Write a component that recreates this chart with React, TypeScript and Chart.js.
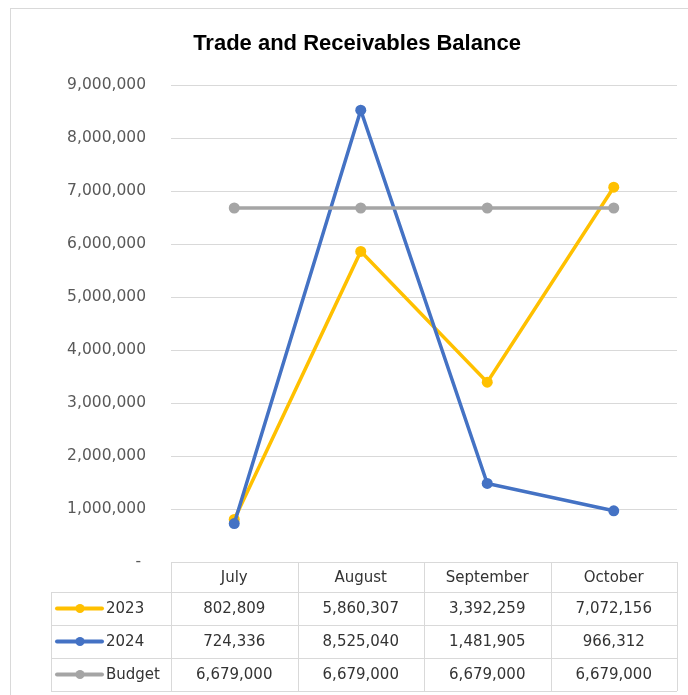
import React, { useEffect, useRef } from "react";
import { Chart, registerables } from "chart.js";

Chart.register(...registerables);

const TITLE = "Trade and Receivables Balance";
const MONTHS = ["July", "August", "September", "October"];
const SERIES_NAMES = ["2023", "2024", "Budget"];
const VALUES_2023 = [802809, 5860307, 3392259, 7072156];
const VALUES_2024 = [724336, 8525040, 1481905, 966312];
const VALUES_BUDGET = [6679000, 6679000, 6679000, 6679000];
const COLORS = ["#FFC000", "#4472C4", "#A5A5A5"];
const Y_MAX = 9000000;
const Y_STEP = 1000000;

const FONT = "'DejaVu Sans', sans-serif";
const fmt = (v: number) => v.toLocaleString("en-US");

const tablePlugin = {
  id: "excelTable",
  beforeDraw(chart: any) {
    const ctx = chart.ctx;
    ctx.save();
    ctx.fillStyle = "#ffffff";
    ctx.fillRect(0, 0, chart.width, chart.height);
    ctx.strokeStyle = "#d9d9d9";
    ctx.lineWidth = 1;
    ctx.strokeRect(10.5, 8.5, chart.width + 20, chart.height + 20);
    ctx.restore();
  },
  afterDraw(chart: any) {
    const ctx = chart.ctx;
    const area = chart.chartArea;
    const xs = chart.scales.x;
    const n = MONTHS.length;
    const band = (area.right - area.left) / n;
    const top = area.bottom;
    const headerH = 30;
    const rowH = 33;
    const legendLeft = 51;
    const rowsTop = top + headerH;
    const bottom = rowsTop + rowH * SERIES_NAMES.length;
    ctx.save();
    // title
    ctx.fillStyle = "#000000";
    ctx.font = `bold 22px 'Liberation Sans', Arial, sans-serif`;
    ctx.textAlign = "center";
    ctx.textBaseline = "alphabetic";
    ctx.fillText(TITLE, 357, 50);

    // table grid
    ctx.strokeStyle = "#d9d9d9";
    ctx.lineWidth = 1;
    const h = (x1: number, x2: number, y: number) => {
      ctx.beginPath();
      ctx.moveTo(x1, Math.round(y) + 0.5);
      ctx.lineTo(x2, Math.round(y) + 0.5);
      ctx.stroke();
    };
    const v = (x: number, y1: number, y2: number) => {
      ctx.beginPath();
      ctx.moveTo(Math.round(x) + 0.5, y1);
      ctx.lineTo(Math.round(x) + 0.5, y2);
      ctx.stroke();
    };
    h(area.left, area.right, top);
    for (let r = 0; r <= SERIES_NAMES.length; r++) h(legendLeft, area.right, rowsTop + r * rowH);
    v(legendLeft, rowsTop, bottom);
    for (let c = 0; c <= n; c++) v(area.left + c * band, top, bottom);

    // header
    ctx.fillStyle = "#333333";
    ctx.font = `15px ${FONT}`;
    ctx.textAlign = "center";
    ctx.textBaseline = "middle";
    MONTHS.forEach((m, i) => {
      ctx.fillText(m, xs.getPixelForValue(i), top + headerH / 2 + 1);
    });
    const rows = [VALUES_2023, VALUES_2024, VALUES_BUDGET];
    rows.forEach((vals, r) => {
      const cy = rowsTop + r * rowH + rowH / 2;
      ctx.strokeStyle = COLORS[r];
      ctx.lineWidth = 4;
      ctx.lineCap = "round";
      ctx.beginPath();
      ctx.moveTo(57, cy);
      ctx.lineTo(102, cy);
      ctx.stroke();
      ctx.fillStyle = COLORS[r];
      ctx.beginPath();
      ctx.arc(80, cy, 4.5, 0, Math.PI * 2);
      ctx.fill();
      ctx.fillStyle = "#333333";
      ctx.textAlign = "left";
      ctx.fillText(SERIES_NAMES[r], 106, cy + 1);
      ctx.textAlign = "center";
      vals.forEach((val, i) => {
        ctx.fillText(fmt(val), xs.getPixelForValue(i), cy + 1);
      });
    });
    ctx.restore();
  },
};

export default function App() {
  const ref = useRef<HTMLCanvasElement | null>(null);
  useEffect(() => {
    if (!ref.current) return;
    const mk = (label: string, data: number[], color: string, order: number) => ({
      label,
      data,
      borderColor: color,
      backgroundColor: color,
      pointBackgroundColor: color,
      pointBorderColor: color,
      pointBorderWidth: 0,
      pointRadius: 5.5,
      borderWidth: 3.5,
      tension: 0,
      order,
    });
    const chart = new Chart(ref.current, {
      type: "line",
      data: {
        labels: MONTHS,
        datasets: [
          mk(SERIES_NAMES[0], VALUES_2023, COLORS[0], 2),
          mk(SERIES_NAMES[1], VALUES_2024, COLORS[1], 1),
          mk(SERIES_NAMES[2], VALUES_BUDGET, COLORS[2], 0),
        ],
      },
      options: {
        responsive: false,
        animation: false,
        layout: { padding: { left: 0, right: 11, top: 85, bottom: 133 } },
        plugins: { legend: { display: false }, tooltip: { enabled: false }, title: { display: false } },
        scales: {
          x: { type: "category", display: false, offset: true },
          y: {
            min: 0,
            max: Y_MAX,
            afterFit: (s: any) => {
              s.width = 171;
            },
            border: { display: false },
            grid: { color: "#d9d9d9", lineWidth: 1, drawTicks: false },
            ticks: {
              stepSize: Y_STEP,
              padding: 25,
              color: "#595959",
              font: { family: FONT, size: 15.5 },
              callback: (val: any) => (Number(val) === 0 ? "- " : fmt(Number(val))),
            },
          },
        },
      },
      plugins: [tablePlugin],
    });
    return () => chart.destroy();
  }, []);
  return (
    <canvas
      ref={ref}
      width={688}
      height={695}
      style={{ position: "fixed", left: 0, top: 0, width: 688, height: 695, display: "block" }}
    />
  );
}
